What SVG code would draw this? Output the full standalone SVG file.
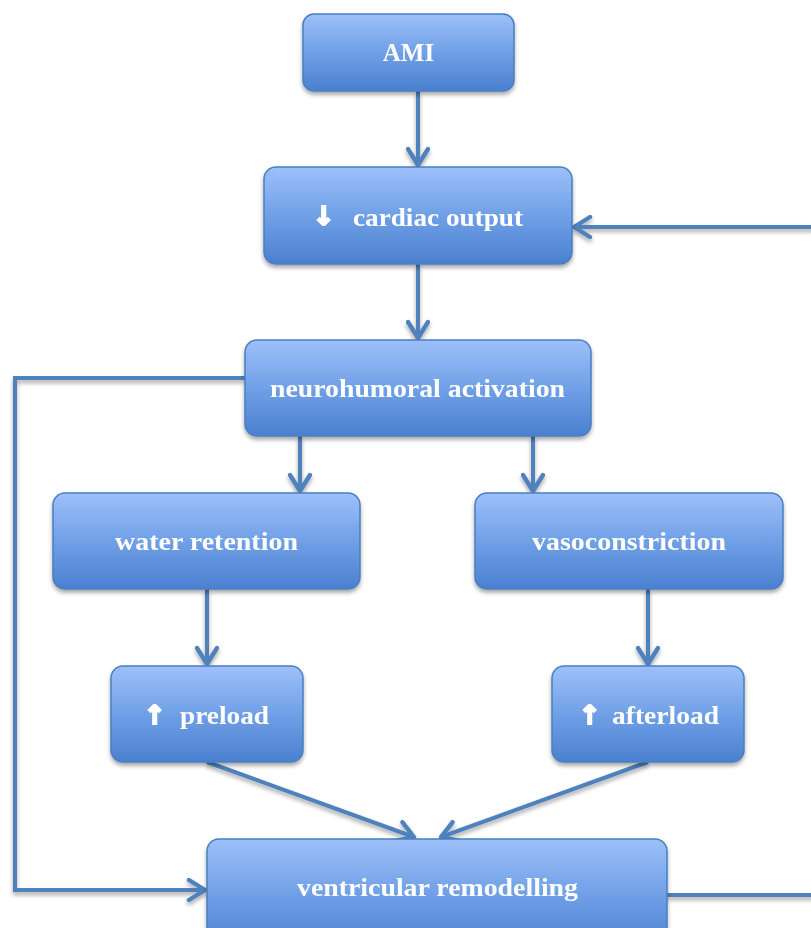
<svg xmlns="http://www.w3.org/2000/svg" width="811" height="928" viewBox="0 0 811 928">
  <defs>
    <linearGradient id="boxFill" x1="0" y1="0" x2="0" y2="1">
      <stop offset="0" stop-color="#9dc0fa"/>
      <stop offset="0.5" stop-color="#70a0e6"/>
      <stop offset="1" stop-color="#4a80d0"/>
    </linearGradient>
    <filter id="shadow" x="-10%" y="-10%" width="120%" height="130%">
      <feGaussianBlur in="SourceAlpha" stdDeviation="2"/>
      <feOffset dx="0" dy="3" result="b"/>
      <feComponentTransfer><feFuncA type="linear" slope="0.35"/></feComponentTransfer>
      <feMerge><feMergeNode/><feMergeNode in="SourceGraphic"/></feMerge>
    </filter>
    <marker id="arrow" viewBox="0 0 12 12" refX="10" refY="6" markerWidth="6" markerHeight="6" orient="auto" markerUnits="strokeWidth">
      <path d="M2,1 L10,6 L2,11" fill="none" stroke="#4f81bd" stroke-width="2.2" stroke-linecap="round" stroke-linejoin="round"/>
    </marker>
  </defs>
  <style>
    .box { fill: url(#boxFill); stroke: #4a7fc0; stroke-width: 1.5; }
    .label { font-family: "Liberation Serif", "DejaVu Serif", serif; font-weight: bold; font-size: 25px; fill: #ffffff; text-anchor: middle; }
    .sym { font-family: "DejaVu Sans", sans-serif; font-weight: bold; font-size: 26px; fill: #ffffff; stroke: #ffffff; stroke-width: 2; text-anchor: middle; }
    .conn { fill: none; stroke: #4f81bd; stroke-width: 4; }
  </style>

  <g id="connectors" filter="url(#shadow)">
    <line class="conn" x1="418" y1="91" x2="418" y2="165" marker-end="url(#arrow)"/>
    <line class="conn" x1="418" y1="264" x2="418" y2="338" marker-end="url(#arrow)"/>
    <line class="conn" x1="300" y1="436" x2="300" y2="491" marker-end="url(#arrow)"/>
    <line class="conn" x1="533" y1="436" x2="533" y2="491" marker-end="url(#arrow)"/>
    <line class="conn" x1="207" y1="589" x2="207" y2="664" marker-end="url(#arrow)"/>
    <line class="conn" x1="648" y1="589" x2="648" y2="664" marker-end="url(#arrow)"/>
    <line class="conn" x1="207" y1="762" x2="414" y2="837" marker-end="url(#arrow)"/>
    <line class="conn" x1="648" y1="762" x2="441" y2="837" marker-end="url(#arrow)"/>
    <polyline class="conn" points="245,378 15,378 15,890 205,890" marker-end="url(#arrow)"/>
    <line class="conn" x1="667" y1="895" x2="815" y2="895"/>
    <line class="conn" x1="815" y1="227" x2="574" y2="227" marker-end="url(#arrow)"/>
  </g>

  <g id="ami" filter="url(#shadow)">
    <rect class="box" x="303" y="14" width="211" height="77" rx="11"/>
    <text class="label" x="408.5" y="61">AMI</text>
  </g>
  <g id="cardiac-output" filter="url(#shadow)">
    <rect class="box" x="264" y="167" width="308" height="97" rx="12"/>
    <text class="sym" x="324" y="225">↓</text>
    <text class="label" x="438" y="226" textLength="170" lengthAdjust="spacingAndGlyphs">cardiac output</text>
  </g>
  <g id="neurohumoral-activation" filter="url(#shadow)">
    <rect class="box" x="245" y="340" width="346" height="96" rx="12"/>
    <text class="label" x="417.5" y="397" textLength="295" lengthAdjust="spacingAndGlyphs">neurohumoral activation</text>
  </g>
  <g id="water-retention" filter="url(#shadow)">
    <rect class="box" x="53" y="493" width="307" height="96" rx="12"/>
    <text class="label" x="206.5" y="550" textLength="183" lengthAdjust="spacingAndGlyphs">water retention</text>
  </g>
  <g id="vasoconstriction" filter="url(#shadow)">
    <rect class="box" x="475" y="493" width="308" height="96" rx="12"/>
    <text class="label" x="629" y="550" textLength="194" lengthAdjust="spacingAndGlyphs">vasoconstriction</text>
  </g>
  <g id="preload" filter="url(#shadow)">
    <rect class="box" x="111" y="666" width="192" height="96" rx="12"/>
    <text class="sym" x="155" y="724">↑</text>
    <text class="label" x="224.5" y="724" textLength="89" lengthAdjust="spacingAndGlyphs">preload</text>
  </g>
  <g id="afterload" filter="url(#shadow)">
    <rect class="box" x="552" y="666" width="192" height="96" rx="12"/>
    <text class="sym" x="590" y="724">↑</text>
    <text class="label" x="665.5" y="724" textLength="107" lengthAdjust="spacingAndGlyphs">afterload</text>
  </g>
  <g id="ventricular-remodelling" filter="url(#shadow)">
    <rect class="box" x="207" y="839" width="460" height="110" rx="12"/>
    <text class="label" x="437.5" y="896" textLength="281" lengthAdjust="spacingAndGlyphs">ventricular remodelling</text>
  </g>
</svg>
